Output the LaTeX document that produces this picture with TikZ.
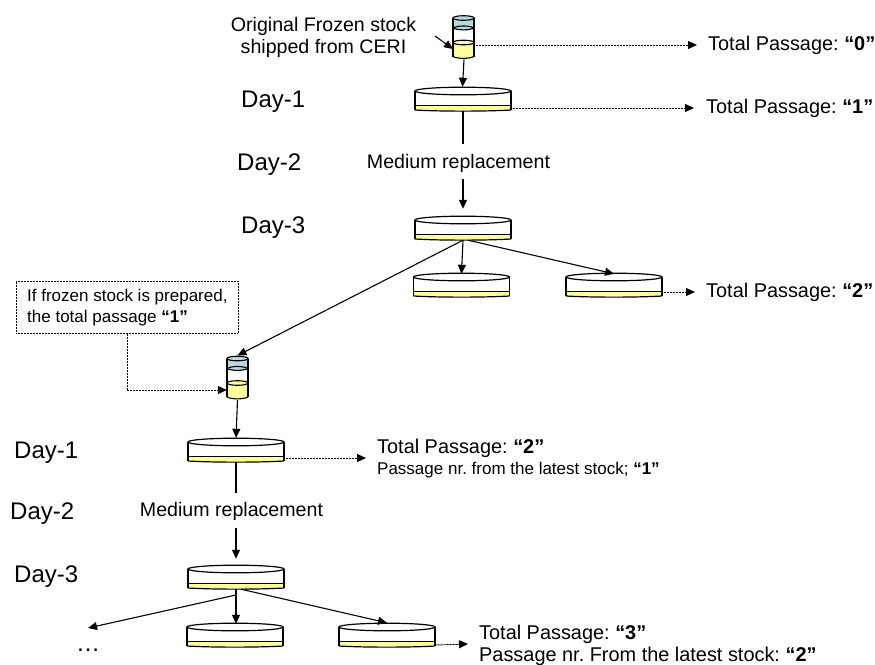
\documentclass[tikz,border=0pt]{standalone}
\usepackage{fontspec}
\setmainfont{Liberation Sans}
\usetikzlibrary{arrows.meta}
\definecolor{medy}{HTML}{FFFF99}
\definecolor{medb}{HTML}{B7D9DF}
\frenchspacing
\tikzset{
  solidarrow/.style={line width=1.1pt,-{Triangle[length=9pt,width=8pt]}},
  plainline/.style={line width=1.1pt},
  fineline/.style={line width=0.9pt,dash pattern=on 1pt off 0.5pt},
  dotarrow/.style={fineline,-{Triangle[length=9pt,width=8pt]}},
  daylabel/.style={anchor=west,inner sep=0pt,font=\fontsize{24}{26}\selectfont},
  passlabel/.style={anchor=west,inner sep=0pt,font=\fontsize{19.9}{22}\selectfont},
  smalllabel/.style={anchor=west,inner sep=0pt,font=\fontsize{17}{21}\selectfont},
  medlabel/.style={inner sep=0pt,font=\fontsize{19.6}{22}\selectfont},
  dishnode/.style={inner sep=0pt,minimum width=96pt,minimum height=24pt},
  vialnode/.style={inner sep=0pt,minimum width=21pt,minimum height=44pt},
}
% \dishat{name}{left x}{top y}
\newcommand{\dishat}[3]{%
  \begin{scope}[shift={(#2,#3)}]
    \fill[medy] (0,19) rectangle (96,23);
    \draw[line width=1.2pt] (0,4) -- (0,23) (96,4) -- (96,23);
    \draw[line width=1.2pt] (0,18.5) -- (96,18.5);
    \draw[line width=1.2pt] (0,23) .. controls (25,24.5) and (71,24.5) .. (96,23);
    \draw[line width=1.2pt,fill=white] (48,4) ellipse [x radius=48,y radius=3.8];
    \node[dishnode] (#1) at (48,12) {};
  \end{scope}}
% \vialat{name}{left x}{top y}
\newcommand{\vialat}[3]{%
  \begin{scope}[shift={(#2,#3)}]
    \fill[medb] (0,2.5) rectangle (21,12.5);
    \fill[medb] (0,12.5) .. controls (5,15) and (16,15) .. (21,12.5) -- cycle;
    \fill[medy] (0,27) rectangle (21,41);
    \fill[medy] (0,41) .. controls (5,43.5) and (16,43.5) .. (21,41) -- cycle;
    \draw[line width=1.1pt] (0,2.5) -- (0,41) (21,2.5) -- (21,41);
    \draw[line width=1.1pt] (0,41) .. controls (5,43.5) and (16,43.5) .. (21,41);
    \draw[line width=1.1pt,fill=medb] (10.5,2.5) ellipse [x radius=10.5,y radius=2.3];
    \draw[line width=1.1pt] (0,12.5) .. controls (5,9.8) and (16,9.8) .. (21,12.5);
    \draw[line width=1.1pt] (0,12.5) .. controls (5,15) and (16,15) .. (21,12.5);
    \draw[line width=1.1pt,fill=medy] (10.5,27) ellipse [x radius=10.5,y radius=2.3];
    \node[vialnode] (#1) at (10.5,21.7) {};
  \end{scope}}
\begin{document}
\begin{tikzpicture}[x=1pt,y=-1pt]
\useasboundingbox (0,0) rectangle (875,664);
\fill[white] (0,0) rectangle (875,664);

\vialat{vialA}{453}{15.5}
\vialat{vialB}{227}{356}
\dishat{dishA}{415}{87}
\dishat{dishB}{415}{216}
\dishat{dishC}{413.5}{273}
\dishat{dishD}{566}{273}
\dishat{dishE}{188}{438}
\dishat{dishF}{188}{565}
\dishat{dishG}{187}{623}
\dishat{dishH}{339}{623}

% labels
\node[medlabel,align=center] (orig) at (323.5,37) {Original Frozen stock\\shipped from CERI};
\node[daylabel] (d1) at (241,102) {Day-1};
\node[daylabel] (d2) at (237,165) {Day-2};
\node[daylabel] (d3) at (241,228) {Day-3};
\node[daylabel] (d4) at (14,453) {Day-1};
\node[daylabel] (d5) at (10,514) {Day-2};
\node[daylabel] (d6) at (14,577) {Day-3};
\node[medlabel] (medA) at (458.5,163) {Medium replacement};
\node[medlabel] (medB) at (231.5,511) {Medium replacement};
\node[passlabel] (tpA) at (708,45) {Total Passage: \textbf{“0”}};
\node[passlabel] (tpB) at (706,108) {Total Passage: \textbf{“1”}};
\node[passlabel] (tpC) at (706,292) {Total Passage: \textbf{“2”}};
\node[passlabel] (tpD) at (377,448) {Total Passage: \textbf{“2”}};
\node[smalllabel] (tpDb) at (377,470) {Passage nr. from the latest stock; \textbf{“1”}};
\node[passlabel] (tpE) at (479,634) {Total Passage: \textbf{“3”}};
\node[passlabel] (tpEb) at (479,656) {Passage nr. From the latest stock: \textbf{“2”}};
\node[draw,fineline,line width=0.7pt,minimum width=222pt,minimum height=52pt,inner sep=0pt,
      anchor=north west] (note) at (16,281) {};
\node[smalllabel,align=left] (notetext) at (27,307.5) {If frozen stock is prepared,\\the total passage \textbf{“1”}};
\node[anchor=west,inner sep=0pt,font=\fontsize{24}{26}\selectfont] (dots) at (76,650) {…};

\coordinate (origtail) at (435,36);
\coordinate (origtip) at (453,49);
\coordinate (dotsend) at (88,628);
\coordinate (tipA) at (697,45);
\coordinate (tipB) at (694,108);
\coordinate (tipC) at (695,292);
\coordinate (tipD) at (366,458);
\coordinate (tipE) at (468,644);

% top
\draw[solidarrow] (origtail) -- (origtip);
\draw[solidarrow] ([xshift=0.5pt]vialA.south) -- ([xshift=-0.5pt]dishA.north);
\draw[dotarrow] (vialA.east |- tipA) -- (tipA);
\draw[dotarrow] (dishA.east |- tipB) -- (tipB);
\draw[plainline] (dishA.south) -- (dishA.south |- 0,144);
\draw[solidarrow] (dishB.north |- 0,179) -- ([yshift=7pt]dishB.north);
\draw[solidarrow] (dishB.south) -- ([yshift=-1pt]dishC.north);
\draw[solidarrow] ([xshift=5pt]dishB.south) -- ([yshift=-1pt]dishD.north);
\draw[solidarrow] (dishB.south) -- (vialB.north);
\draw[dotarrow] (dishD.east |- tipC) -- (tipC);

% lower
\draw[dotarrow] (note.south) -- (note.south |- 0,390) -- (vialB.west |- 0,390);
\draw[solidarrow] (vialB.south) -- (dishE.north);
\draw[dotarrow] (dishE.east |- tipD) -- (tipD);
\draw[plainline] (dishE.south) -- (dishE.south |- 0,493);
\draw[solidarrow] (dishF.north |- 0,528) -- ([yshift=6pt]dishF.north);
\draw[solidarrow] ([xshift=-1pt,yshift=-6pt]dishF.south) -- (dotsend);
\draw[solidarrow] (dishF.south) -- ([xshift=1pt,yshift=-1pt]dishG.north);
\draw[solidarrow] ([xshift=5pt]dishF.south) -- (dishH.north);
\draw[dotarrow] ([yshift=-1pt]dishH.east |- tipE) -- (tipE);
\end{tikzpicture}
\end{document}
